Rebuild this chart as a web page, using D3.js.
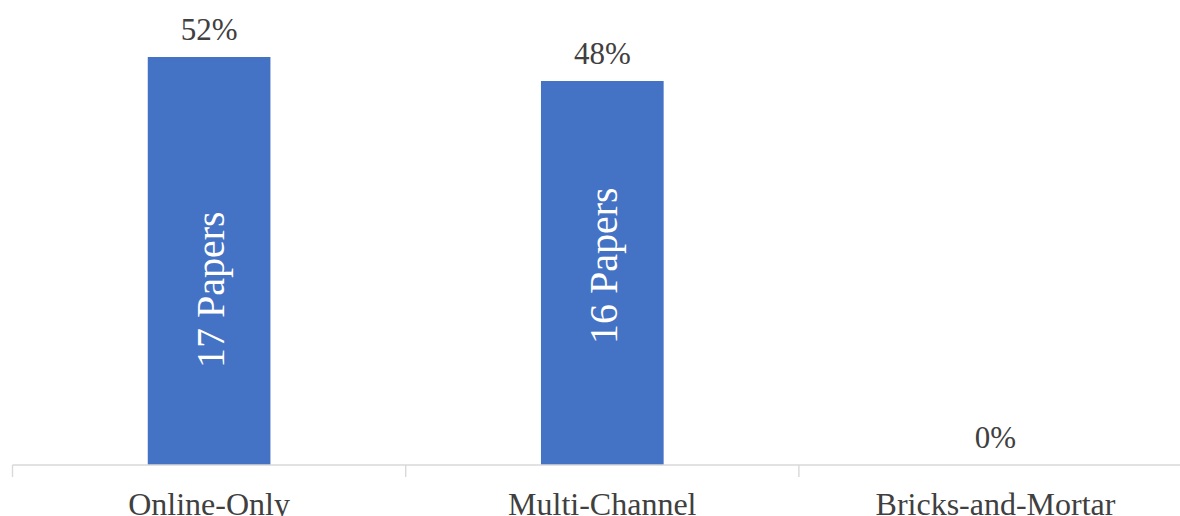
<!DOCTYPE html>
<html>
<head>
<meta charset="utf-8">
<script src="https://cdn.jsdelivr.net/npm/d3@7"></script>
<style>
  html, body { margin: 0; padding: 0; background: #fff; }
  svg { display: block; }
</style>
</head>
<body>
<svg id="chart" width="1180" height="516"></svg>
<script>
// ---- data ----
const categories = ["Online-Only", "Multi-Channel", "Bricks-and-Mortar"];
const papers = [17, 16, 0];
const percentLabels = ["52%", "48%", "0%"];
const innerLabels = ["17 Papers", "16 Papers", ""];
const innerLabelCenter = [7.3, 8.3, 0]; // in paper units, where the inner label is centered
const yMax = 18;

// ---- layout ----
const W = 1180, H = 516;
const svg = d3.select("#chart");
const baseY = 465;
const x = d3.scaleBand().domain(categories).range([12.5, 12.5 + 393.2 * 3])
  .paddingInner(0.688).paddingOuter(0.344);
const y = d3.scaleLinear().domain([0, yMax]).range([baseY, baseY - 24 * yMax]);

const textColor = "#404040";
const font = "'Liberation Serif', 'Times New Roman', serif";

// bars
svg.append("g").selectAll("rect").data(categories).join("rect")
  .attr("x", d => x(d))
  .attr("width", x.bandwidth())
  .attr("y", (d, i) => y(papers[i]))
  .attr("height", (d, i) => y(0) - y(papers[i]))
  .attr("fill", "#4472C4");

// axis
const step = x.step();
const axis = svg.append("g");
axis.append("line")
  .attr("x1", x.range()[0]).attr("x2", W + 20)
  .attr("y1", y(0)).attr("y2", y(0))
  .attr("stroke", "#d9d9d9").attr("stroke-width", 1.4);
const tickPos = d3.range(categories.length + 1).map(i => x.range()[0] + i * step);
axis.selectAll("line.tick").data(tickPos).join("line")
  .attr("class", "tick")
  .attr("x1", d => d).attr("x2", d => d)
  .attr("y1", y(0)).attr("y2", y(0) + 12)
  .attr("stroke", "#d9d9d9").attr("stroke-width", 1.4);

// category labels
axis.selectAll("text").data(categories).join("text")
  .attr("x", d => x(d) + x.bandwidth() / 2)
  .attr("y", 515)
  .attr("text-anchor", "middle")
  .attr("font-family", font)
  .attr("font-size", 32)
  .attr("fill", textColor)
  .text(d => d);

// percentage labels
svg.append("g").selectAll("text").data(categories).join("text")
  .attr("x", d => x(d) + x.bandwidth() / 2)
  .attr("y", (d, i) => y(papers[i]) - 17.5)
  .attr("text-anchor", "middle")
  .attr("font-family", font)
  .attr("font-size", 31)
  .attr("fill", textColor)
  .text((d, i) => percentLabels[i]);

// inner rotated labels
svg.append("g").selectAll("text").data(categories.filter((d, i) => innerLabels[i])).join("text")
  .attr("transform", (d) => {
    const i = categories.indexOf(d);
    const cx = x(d) + x.bandwidth() / 2 + 15;
    const cy = y(innerLabelCenter[i]);
    return `translate(${cx},${cy}) rotate(-90)`;
  })
  .attr("text-anchor", "middle")
  .attr("font-family", font)
  .attr("font-size", 40)
  .attr("fill", "#ffffff")
  .text(d => innerLabels[categories.indexOf(d)]);
</script>
</body>
</html>
